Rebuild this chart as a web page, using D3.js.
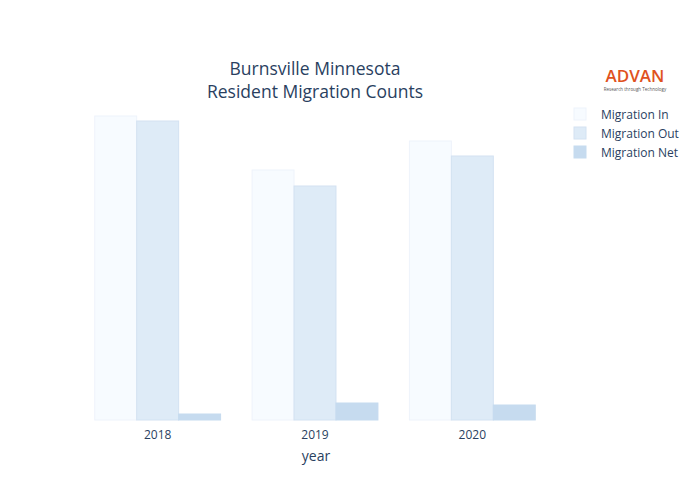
<!DOCTYPE html>
<html><head><meta charset="utf-8">
<script src="https://cdn.jsdelivr.net/npm/d3@7"></script>
<style>body{margin:0;background:#fff}text{font-family:"Open Sans",sans-serif}</style>
</head><body><div id="chart"></div>
<script>
// data
let years = ["2018", "2019", "2020"];
let series = ["Migration In", "Migration Out", "Migration Net"];
let migration_in = [30400, 25000, 27900];
let migration_out = [29900, 23400, 26400];
let migration_net = [600, 1700, 1500];
let colors = ["#f7fbff", "#deebf7", "#c6dbef"];
let strokes = ["#eef3fb", "#d3e2f2", "#c6dbef"];

let width = 700, height = 500;
let svg = d3.select("#chart").append("svg").attr("width", width).attr("height", height);

let x = d3.scaleBand().domain(years).range([79, 551]).paddingInner(0.2).paddingOuter(0.1);
let xs = d3.scaleBand().domain(series).range([0, x.bandwidth()]);
let y = d3.scaleLinear().domain([0, 32000]).range([420, 100]);

let values = [migration_in, migration_out, migration_net];
series.forEach(function (s, si) {
  svg.append("g").selectAll("rect").data(years).enter().append("rect")
    .attr("x", d => x(d) + xs(s))
    .attr("width", xs.bandwidth())
    .attr("y", (d, i) => y(values[si][i]))
    .attr("height", (d, i) => y(0) - y(values[si][i]))
    .attr("fill", colors[si])
    .attr("stroke", strokes[si])
    .attr("stroke-width", 1);
});

// x axis labels
svg.append("g").attr("transform", "translate(0,420)")
  .call(d3.axisBottom(x).tickSize(0).tickPadding(10))
  .call(g => g.select(".domain").remove())
  .selectAll("text").attr("font-size", 12).attr("fill", "#2a3f5f").attr("font-family", "Open Sans");

svg.append("text").attr("x", 316).attr("y", 461).attr("text-anchor", "middle")
  .attr("font-size", 14).attr("fill", "#2a3f5f").text("year");

// title (two lines)
svg.append("text").attr("x", 315).attr("y", 75).attr("text-anchor", "middle")
  .attr("font-size", 17.5).attr("fill", "#2a3f5f").text("Burnsville Minnesota");
svg.append("text").attr("x", 315).attr("y", 98).attr("text-anchor", "middle")
  .attr("font-size", 17.5).attr("fill", "#2a3f5f").text("Resident Migration Counts");

// logo
svg.append("text").attr("x", 635).attr("y", 82).attr("text-anchor", "middle")
  .attr("font-size", 17).attr("font-weight", 600).attr("fill", "#e0521e").text("ADVAN");
svg.append("text").attr("x", 635).attr("y", 91).attr("text-anchor", "middle")
  .attr("font-size", 4.5).attr("fill", "#555").text("Research through Technology");

// legend
let legend = svg.append("g").selectAll("g").data(series).enter().append("g")
  .attr("transform", (d, i) => "translate(574," + (114 + i * 19) + ")");
legend.append("rect").attr("x", 0).attr("y", -6).attr("width", 12).attr("height", 12)
  .attr("fill", (d, i) => colors[i]).attr("stroke", (d, i) => strokes[i]);
legend.append("text").attr("x", 27).attr("y", 5).attr("font-size", 12)
  .attr("fill", "#2a3f5f").text(d => d);
</script>
</body></html>
